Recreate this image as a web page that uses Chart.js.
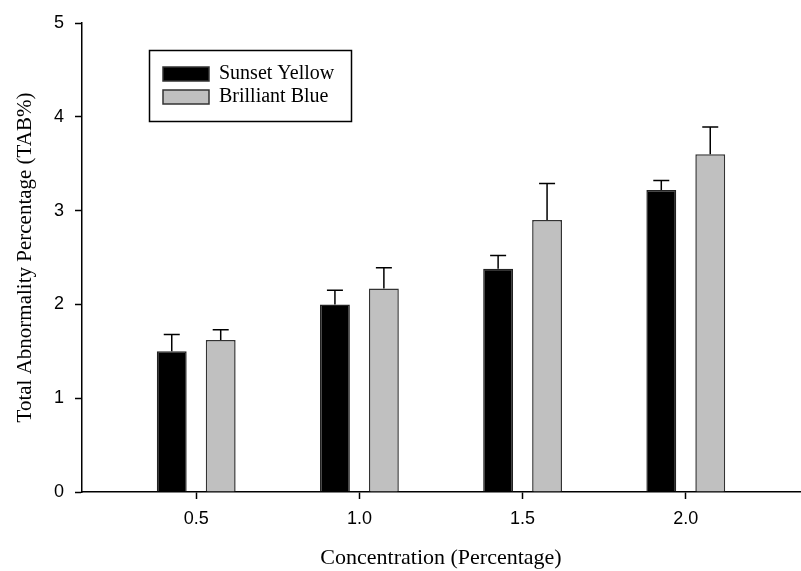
<!DOCTYPE html>
<html>
<head>
<meta charset="utf-8">
<title>Total Abnormality Percentage</title>
<script src="https://cdn.jsdelivr.net/npm/chart.js@4.4.1/dist/chart.umd.min.js"></script>
<style>
  html, body { margin: 0; padding: 0; background: #fff; }
  #chart { display: block; }
</style>
</head>
<body>
<canvas id="chart" width="801" height="571"></canvas>
<script>
// data
const concentrations = [0.5, 1.0, 1.5, 2.0];
const tickLabels = ['0.5', '1.0', '1.5', '2.0'];
const sunsetYellow = [1.50, 2.00, 2.38, 3.22];
const sunsetYellowErr = [0.18, 0.15, 0.14, 0.10];
const brilliantBlue = [1.62, 2.17, 2.90, 3.60];
const brilliantBlueErr = [0.11, 0.22, 0.39, 0.29];

const serif = "'Liberation Serif', 'Times New Roman', serif";

Chart.defaults.font.family = "'Liberation Sans', Arial, sans-serif";
Chart.defaults.color = '#000';

// error bars drawn on top of each bar, upper side only
const errorBars = {
  id: 'errorBars',
  afterDatasetsDraw(chart) {
    const ctx = chart.ctx;
    const y = chart.scales.y;
    ctx.save();
    ctx.strokeStyle = '#000';
    ctx.lineWidth = 1.5;
    chart.data.datasets.forEach((ds, di) => {
      const meta = chart.getDatasetMeta(di);
      meta.data.forEach((bar, i) => {
        const top = y.getPixelForValue(ds.data[i].y + ds.errors[i]);
        ctx.beginPath();
        ctx.moveTo(bar.x, bar.y);
        ctx.lineTo(bar.x, top);
        ctx.moveTo(bar.x - 8, top);
        ctx.lineTo(bar.x + 8, top);
        ctx.stroke();
      });
    });
    ctx.restore();
  }
};

// boxed legend sitting inside the plot
const boxLegend = {
  id: 'boxLegend',
  afterDraw(chart) {
    const ctx = chart.ctx;
    ctx.save();
    ctx.strokeStyle = '#000';
    ctx.lineWidth = 1.5;
    ctx.strokeRect(149.5, 50.5, 202, 71);
    ctx.font = '20px ' + serif;
    ctx.textBaseline = 'middle';
    ctx.fillStyle = '#000';
    chart.data.datasets.forEach((ds, i) => {
      const top = 67 + i * 23;
      ctx.fillStyle = ds.backgroundColor;
      ctx.fillRect(163, top, 46, 14);
      ctx.strokeStyle = '#333';
      ctx.lineWidth = 1.5;
      ctx.strokeRect(163, top, 46, 14);
      ctx.fillStyle = '#000';
      ctx.fillText(ds.label, 219, top + 7);
    });
    ctx.restore();
  }
};

new Chart(document.getElementById('chart'), {
  type: 'bar',
  data: {
    datasets: [
      {
        label: 'Sunset Yellow',
        data: concentrations.map((c, i) => ({ x: c, y: sunsetYellow[i] })),
        errors: sunsetYellowErr,
        backgroundColor: '#000000',
        borderColor: '#222222',
        borderWidth: 1.5
      },
      {
        label: 'Brilliant Blue',
        data: concentrations.map((c, i) => ({ x: c, y: brilliantBlue[i] })),
        errors: brilliantBlueErr,
        backgroundColor: '#c0c0c0',
        borderColor: '#333333',
        borderWidth: 1.5
      }
    ]
  },
  options: {
    responsive: false,
    animation: false,
    categoryPercentage: 0.6,
    barPercentage: 0.61,
    layout: { padding: { top: 23, right: 1, bottom: 0, left: 0 } },
    plugins: {
      legend: { display: false },
      tooltip: { enabled: false }
    },
    scales: {
      x: {
        type: 'linear',
        min: 0.15,
        max: 2.35,
        offset: false,
        afterBuildTicks: (scale) => {
          scale.ticks = concentrations.map(v => ({ value: v }));
        },
        afterFit: (scale) => { scale.height = 79; },
        ticks: {
          padding: 9,
          font: { size: 18 },
          callback: (v) => tickLabels[concentrations.indexOf(v)]
        },
        grid: {
          offset: false,
          drawOnChartArea: false,
          tickLength: 7,
          tickWidth: 1.5,
          color: '#000'
        },
        border: { color: '#000', width: 1.5 },
        title: {
          display: true,
          text: 'Concentration (Percentage)',
          font: { family: serif, size: 22, lineHeight: 1.2 },
          padding: { top: 0, bottom: 0 }
        }
      },
      y: {
        min: 0,
        max: 5,
        afterFit: (scale) => { scale.width = 82; },
        ticks: {
          stepSize: 1,
          padding: 11,
          font: { size: 18 }
        },
        grid: {
          drawOnChartArea: false,
          tickLength: 7,
          tickWidth: 1.5,
          color: '#000'
        },
        border: { color: '#000', width: 1.5 },
        title: {
          display: true,
          text: 'Total Abnormality Percentage (TAB%)',
          font: { family: serif, size: 21, lineHeight: 1.2 },
          padding: { top: 13, bottom: 0 }
        }
      }
    }
  },
  plugins: [errorBars, boxLegend]
});
</script>
</body>
</html>
